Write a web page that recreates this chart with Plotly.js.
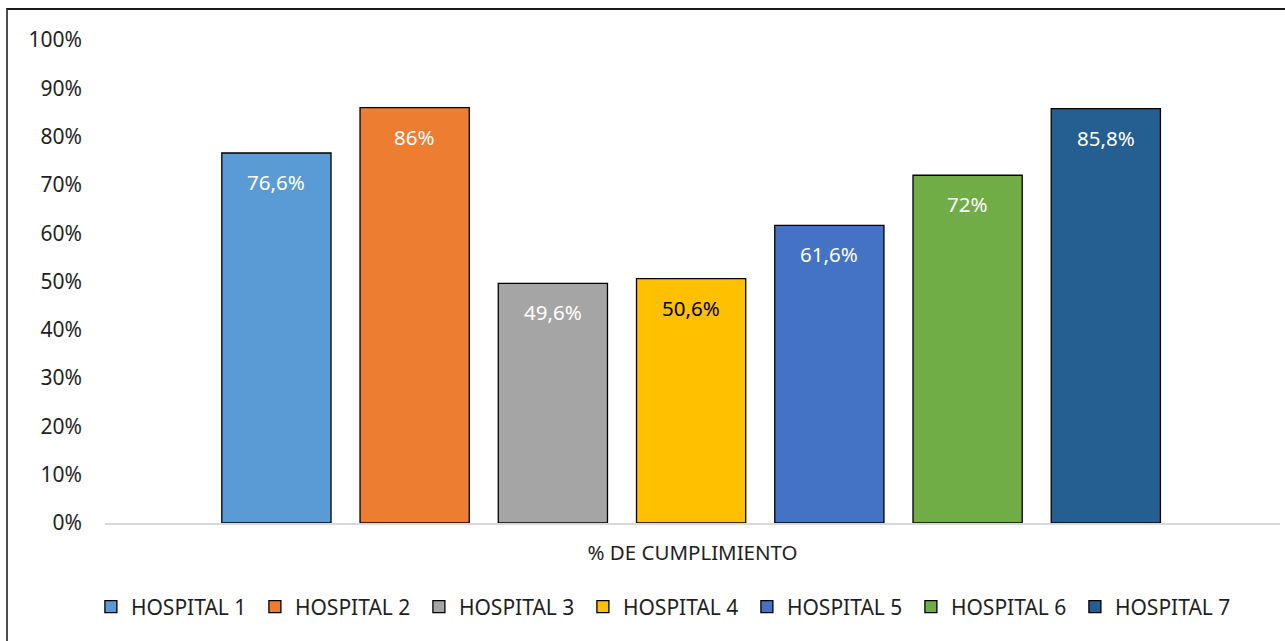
<!DOCTYPE html>
<html>
<head>
<meta charset="utf-8">
<script src="https://cdn.plot.ly/plotly-3.0.1.min.js"></script>
<style>
  html, body { margin: 0; padding: 0; background: #fff; overflow: hidden; }
  #chart { width: 1285px; height: 641px; }
  #frame { position: absolute; left: 6px; top: 8px; width: 1400px; height: 800px;
           border-left: 2px solid #4d4d4d; border-top: 2px solid #1a1a1a; pointer-events: none; }
</style>
</head>
<body>
<div id="chart"></div>
<div id="frame"></div>
<script>
const category = '% DE CUMPLIMIENTO';
const hospitals = ['HOSPITAL 1', 'HOSPITAL 2', 'HOSPITAL 3', 'HOSPITAL 4', 'HOSPITAL 5', 'HOSPITAL 6', 'HOSPITAL 7'];
const values = [76.6, 86, 49.6, 50.6, 61.6, 72, 85.8];
const barColors = ['#5B9BD5', '#ED7D31', '#A5A5A5', '#FFC000', '#4472C4', '#70AD47', '#255E91'];
const labelColors = ['#ffffff', '#ffffff', '#ffffff', '#000000', '#ffffff', '#ffffff', '#ffffff'];
const yTicks = [0, 10, 20, 30, 40, 50, 60, 70, 80, 90, 100];

const FONT = 'Noto Sans, DejaVu Sans, sans-serif';
const fmt = v => String(v).replace('.', ',') + '%';

const traces = hospitals.map((h, i) => ({
  type: 'bar',
  name: h,
  x: [i + 1],
  y: [values[i]],
  width: 0.79,
  marker: { color: barColors[i], line: { color: '#000000', width: 1.3 } },
  hovertemplate: h + ': ' + fmt(values[i]) + '<extra></extra>'
}));

const annotations = hospitals.map((h, i) => ({
  x: i + 1, y: values[i], xref: 'x', yref: 'y',
  yshift: -29, showarrow: false,
  text: fmt(values[i]),
  font: { family: FONT, size: 20.5, color: labelColors[i] }
}));

const layout = {
  width: 1285, height: 641,
  margin: { l: 105, r: 5, t: 40, b: 118 },
  paper_bgcolor: '#ffffff', plot_bgcolor: '#ffffff',
  font: { family: FONT, size: 21, color: '#1f1f1f' },
  barmode: 'overlay',
  showlegend: true,
  legend: {
    orientation: 'h', x: -0.012, xanchor: 'left', y: -0.174, yanchor: 'middle',
    font: { family: FONT, size: 21, color: '#1f1f1f' },
    itemwidth: 30, traceorder: 'normal',
    entrywidth: 119, entrywidthmode: 'pixels'
  },
  xaxis: {
    range: [-0.24, 8.26],
    showticklabels: false, ticks: '',
    showgrid: false, zeroline: false,
    showline: true, linecolor: '#d9d9d9', linewidth: 2,
    title: { text: category, standoff: 22, font: { family: FONT, size: 20.5, color: '#1f1f1f' } },
    fixedrange: true
  },
  yaxis: {
    range: [0, 100],
    tickvals: yTicks,
    ticktext: yTicks.map(t => t + '%'),
    showgrid: false, zeroline: false, showline: false,
    ticks: '', ticklabelstandoff: 22,
    tickfont: { family: FONT, size: 21, color: '#1f1f1f' },
    fixedrange: true
  },
  annotations: annotations
};

Plotly.newPlot('chart', traces, layout, { displayModeBar: false, staticPlot: true });
</script>
</body>
</html>
